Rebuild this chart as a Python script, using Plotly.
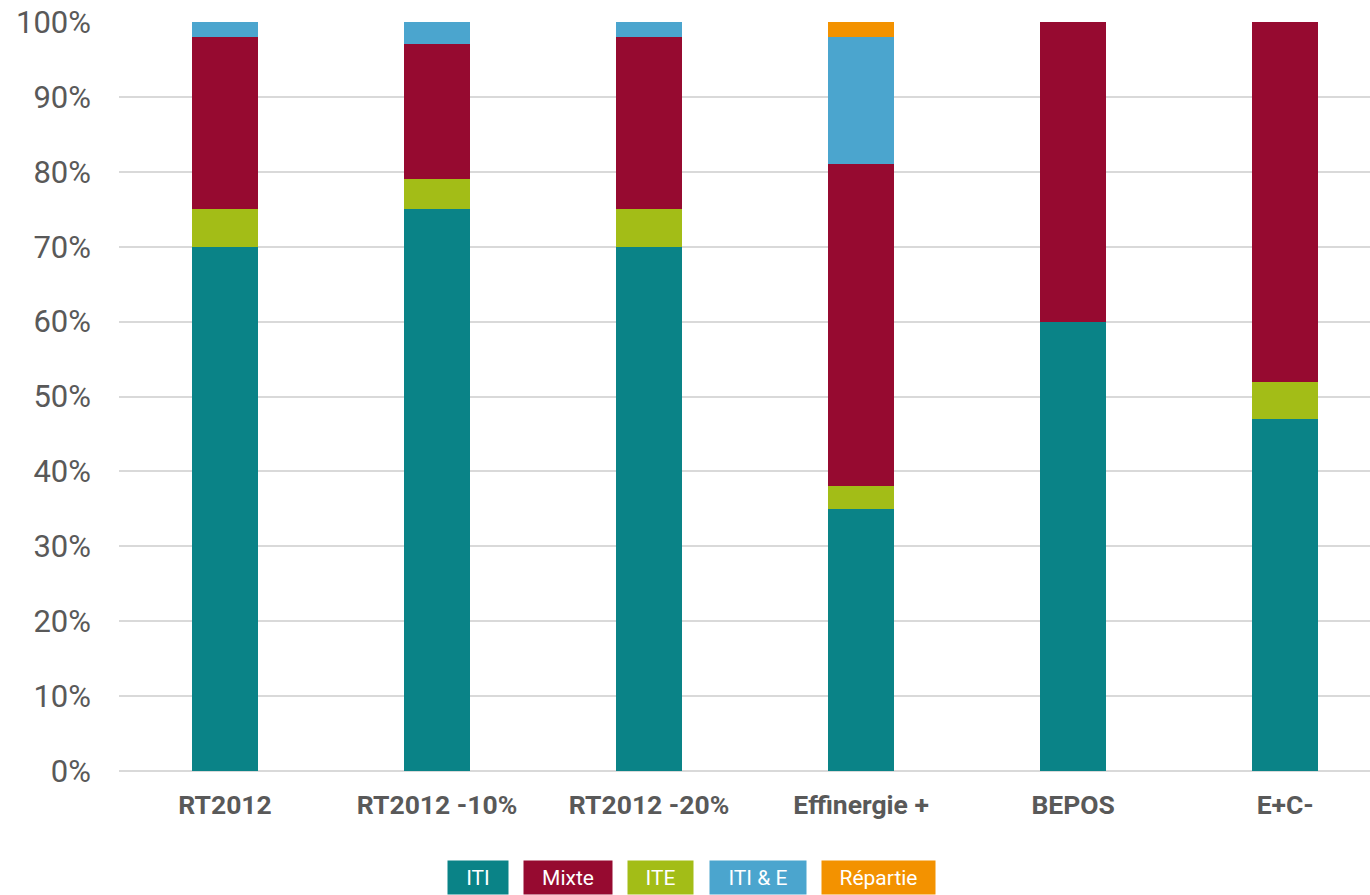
import plotly.graph_objects as go

categories = ["RT2012", "RT2012 -10%", "RT2012 -20%", "Effinergie +", "BEPOS", "E+C-"]
iti = [70, 75, 70, 35, 60, 47]
ite = [5, 4, 5, 3, 0, 5]
mixte = [23, 18, 23, 43, 40, 48]
iti_e = [2, 3, 2, 17, 0, 0]
repartie = [0, 0, 0, 2, 0, 0]
y_ticks = list(range(0, 101, 10))
y_tick_labels = [f"{v}%" for v in y_ticks]

series = [
    ("ITI", iti, "#0A8387"),
    ("ITE", ite, "#A3BD17"),
    ("Mixte", mixte, "#960A30"),
    ("ITI & E", iti_e, "#4BA5CE"),
    ("Répartie", repartie, "#F39200"),
]
legend_order = ["ITI", "Mixte", "ITE", "ITI & E", "Répartie"]
colors = {n: c for n, _, c in series}

fig = go.Figure()
for name, vals, col in series:
    fig.add_trace(go.Bar(x=categories, y=vals, name=name, marker=dict(color=col, line=dict(width=0)),
                         width=0.31, showlegend=False))

fig.update_layout(
    barmode="stack",
    width=1370, height=895,
    margin=dict(l=119, r=0, t=22, b=124),
    plot_bgcolor="white", paper_bgcolor="white",
    font=dict(family="Roboto", color="#595959"),
    xaxis=dict(range=[-0.5, 5.40], showgrid=False, showline=False, zeroline=False,
               tickfont=dict(size=26.5, family="Roboto", weight="bold", color="#595959"),
               ticklabelstandoff=15),
    yaxis=dict(range=[0, 100], tickvals=y_ticks, ticktext=y_tick_labels,
               showgrid=True, gridcolor="#D9D9D9", gridwidth=2, zeroline=True,
               zerolinecolor="#D9D9D9", zerolinewidth=2, showline=False,
               tickfont=dict(size=31, family="Roboto", color="#595959"),
               ticklabelstandoff=27),
)

# legend boxes: (center px, width px)
legend_px = {"ITI": (478, 60), "Mixte": (568, 88), "ITE": (660, 65), "ITI & E": (758, 96), "Répartie": (878, 113)}
plot_w = 1370 - 119
plot_h = 895 - 22 - 124
for name in legend_order:
    cx, w = legend_px[name]
    fig.add_annotation(
        x=(cx - 119) / plot_w, y=(771 - 877.5) / plot_h,
        xref="paper", yref="paper", text=name, showarrow=False,
        font=dict(size=21, family="Roboto", color="white"),
        bgcolor=colors[name], borderpad=0, width=w, height=33,
        xanchor="center", yanchor="middle",
    )

fig.write_html("out.html", config={"displayModeBar": False},
               post_script="document.body.style.margin='0';")
